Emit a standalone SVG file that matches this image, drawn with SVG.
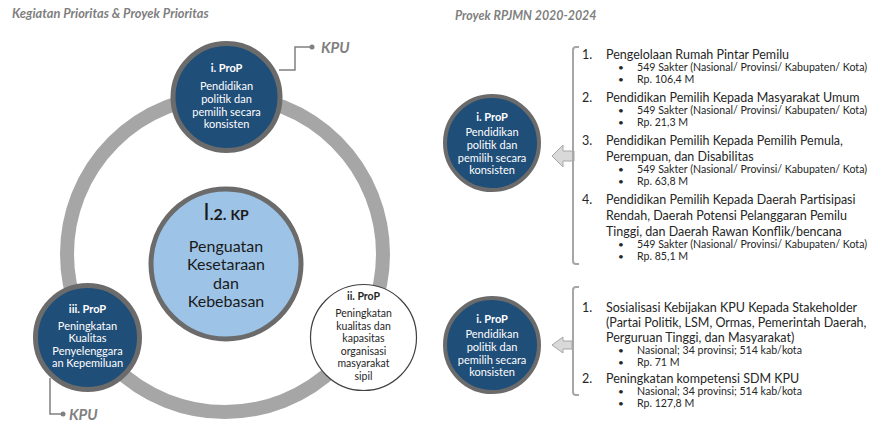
<svg xmlns="http://www.w3.org/2000/svg" width="871" height="421" viewBox="0 0 871 421">
<style>
.title{font-family:Lato,"Liberation Sans",sans-serif;font-weight:bold;font-style:italic;font-size:12.8px;fill:#7f7f7f}
.title2{font-family:Lato,"Liberation Sans",sans-serif;font-weight:bold;font-style:italic;font-size:12.4px;fill:#7f7f7f}
.kpu{font-family:Lato,"Liberation Sans",sans-serif;font-weight:bold;font-style:italic;font-size:15px;fill:#808080}
.dark{fill:#1f4e79;stroke:#6b6b6b;stroke-width:5}
.ct{font-family:Lato,"Liberation Sans",sans-serif;font-size:11px;fill:#ffffff;text-anchor:middle}
.ch{font-family:Lato,"Liberation Sans",sans-serif;font-size:11px;font-weight:bold;fill:#ffffff;text-anchor:middle}
.wt{font-family:Lato,"Liberation Sans",sans-serif;font-size:10.5px;fill:#262626;text-anchor:middle}
.wh{font-family:Lato,"Liberation Sans",sans-serif;font-size:10.5px;font-weight:bold;fill:#262626;text-anchor:middle}
.big{font-family:Lato,"Liberation Sans",sans-serif;font-size:16px;fill:#1a1a1a;text-anchor:middle}
.item{font-family:Lato,"Liberation Sans",sans-serif;font-size:12.5px;fill:#262626}
.sub{font-family:Lato,"Liberation Sans",sans-serif;font-size:10.6px;fill:#262626}
.bul{font-family:Lato,"Liberation Sans",sans-serif;font-size:10px;fill:#262626}
.conn{fill:none;stroke:#808080;stroke-width:1.5}
.brk{fill:none;stroke:#a6a6a6;stroke-width:2}
.arr{fill:#d9d9d9;stroke:#a6a6a6;stroke-width:1}
</style>
<rect width="871" height="421" fill="#ffffff"/>
<text class="title" x="12" y="17.5">Kegiatan Prioritas &amp; Proyek Prioritas</text>
<text class="title2" x="455" y="19.5">Proyek RPJMN 2020-2024</text>

<g id="ring">
<circle cx="225" cy="254" r="158" fill="none" stroke="#a6a6a6" stroke-width="14"/>
</g>

<g id="connectors">
<polyline class="conn" points="279,70 295,70 295,47 312,47"/>
<circle cx="312" cy="47" r="2.5" fill="#808080"/>
<polyline class="conn" points="50,378 50,414 63,414"/>
<circle cx="63" cy="414" r="2.5" fill="#808080"/>
<path class="arr" d="M552,156 L563,145 L563,151 L574,151 L574,161 L563,161 L563,167 Z"/>
<path class="arr" d="M552,345 L563,337 L563,341 L572,341 L572,349 L563,349 L563,353 Z"/>
<path class="brk" d="M579,47 L576,47 Q573,47 573,50 L573,261 Q573,264 576,264 L579,264"/>
<path class="brk" d="M579,287 L576,287 Q573,287 573,290 L573,392 Q573,395 576,395 L579,395"/>
</g>

<g id="kpu-top">
<text class="kpu" x="321" y="52.5">KPU</text>
</g>
<g id="kpu-bottom">
<text class="kpu" x="69" y="419.5">KPU</text>
</g>

<g id="prop-i-top">
<circle class="dark" cx="226.5" cy="97" r="53.5"/>
<text class="ch" x="226.5" y="72">i. ProP</text>
<text class="ct" x="226.5" y="90">Pendidikan</text>
<text class="ct" x="226.5" y="103">politik dan</text>
<text class="ct" x="226.5" y="115.5">pemilih secara</text>
<text class="ct" x="226.5" y="127.5">konsisten</text>
</g>

<g id="kp-center">
<circle cx="226" cy="264" r="75" fill="#9dc3e6" stroke="#6b6b6b" stroke-width="5"/>
<text x="226" y="220" text-anchor="middle" font-family="Lato,'Liberation Sans',sans-serif" font-weight="bold" fill="#1a1a1a"><tspan font-size="23" font-weight="normal">I</tspan><tspan font-size="16">.2. </tspan><tspan font-size="14">KP</tspan></text>
<text class="big" x="226" y="251.5">Penguatan</text>
<text class="big" x="226" y="270">Kesetaraan</text>
<text class="big" x="226" y="288.5">dan</text>
<text class="big" x="226" y="307">Kebebasan</text>
</g>

<g id="prop-iii">
<circle class="dark" cx="87.5" cy="337.5" r="52"/>
<text class="ch" x="87.5" y="313">iii. ProP</text>
<text class="ct" x="87.5" y="330">Peningkatan</text>
<text class="ct" x="87.5" y="342">Kualitas</text>
<text class="ct" x="87.5" y="355">Penyelenggara</text>
<text class="ct" x="87.5" y="367">an Kepemiluan</text>
</g>

<g id="prop-ii">
<circle cx="363.5" cy="337.5" r="53" fill="#ffffff" stroke="#404040" stroke-width="1.2"/>
<text class="wh" x="363.5" y="300">ii. ProP</text>
<text class="wt" x="363.5" y="317">Peningkatan</text>
<text class="wt" x="363.5" y="330">kualitas dan</text>
<text class="wt" x="363.5" y="342">kapasitas</text>
<text class="wt" x="363.5" y="355">organisasi</text>
<text class="wt" x="363.5" y="367">masyarakat</text>
<text class="wt" x="363.5" y="380">sipil</text>
</g>

<g id="prop-i-right-1">
<circle cx="492" cy="143" r="47" fill="#1f4e79" stroke="#6b6b6b" stroke-width="4"/>
<text class="ch" x="492" y="121">i. ProP</text>
<text class="ct" x="492" y="136">Pendidikan</text>
<text class="ct" x="492" y="149">politik dan</text>
<text class="ct" x="492" y="162">pemilih secara</text>
<text class="ct" x="492" y="174">konsisten</text>
</g>

<g id="prop-i-right-2">
<circle cx="492" cy="345" r="47" fill="#1f4e79" stroke="#6b6b6b" stroke-width="4"/>
<text class="ch" x="492" y="323">i. ProP</text>
<text class="ct" x="492" y="338">Pendidikan</text>
<text class="ct" x="492" y="351">politik dan</text>
<text class="ct" x="492" y="364">pemilih secara</text>
<text class="ct" x="492" y="376">konsisten</text>
</g>

<g id="list-1">
<text class="item" x="582" y="58.5">1.</text>
<text class="item" x="606" y="58.5">Pengelolaan Rumah Pintar Pemilu</text>
<text class="bul" x="618" y="70.5">•</text><text class="sub" x="637" y="70.8">549 Sakter (Nasional/ Provinsi/ Kabupaten/ Kota)</text>
<text class="bul" x="618" y="82.5">•</text><text class="sub" x="637" y="82.8">Rp. 106,4 M</text>
<text class="item" x="582" y="101.5">2.</text>
<text class="item" x="606" y="101.5">Pendidikan Pemilih Kepada Masyarakat Umum</text>
<text class="bul" x="618" y="113.5">•</text><text class="sub" x="637" y="113.8">549 Sakter (Nasional/ Provinsi/ Kabupaten/ Kota)</text>
<text class="bul" x="618" y="125.5">•</text><text class="sub" x="637" y="125.8">Rp. 21,3 M</text>
<text class="item" x="582" y="144.5">3.</text>
<text class="item" x="606" y="144.5">Pendidikan Pemilih Kepada Pemilih Pemula,</text>
<text class="item" x="606" y="160.5">Perempuan, dan Disabilitas</text>
<text class="bul" x="618" y="172.5">•</text><text class="sub" x="637" y="172.8">549 Sakter (Nasional/ Provinsi/ Kabupaten/ Kota)</text>
<text class="bul" x="618" y="184.5">•</text><text class="sub" x="637" y="184.8">Rp. 63,8 M</text>
<text class="item" x="582" y="203.5">4.</text>
<text class="item" x="606" y="203.5">Pendidikan Pemilih Kepada Daerah Partisipasi</text>
<text class="item" x="606" y="219.5">Rendah, Daerah Potensi Pelanggaran Pemilu</text>
<text class="item" x="606" y="235.5">Tinggi, dan Daerah Rawan Konflik/bencana</text>
<text class="bul" x="618" y="247.5">•</text><text class="sub" x="637" y="247.8">549 Sakter (Nasional/ Provinsi/ Kabupaten/ Kota)</text>
<text class="bul" x="618" y="259.5">•</text><text class="sub" x="637" y="259.8">Rp. 85,1 M</text>
</g>

<g id="list-2">
<text class="item" x="582" y="311.5">1.</text>
<text class="item" x="606" y="311.5">Sosialisasi Kebijakan KPU Kepada Stakeholder</text>
<text class="item" x="606" y="326.5">(Partai Politik, LSM, Ormas, Pemerintah Daerah,</text>
<text class="item" x="606" y="341.5">Perguruan Tinggi, dan Masyarakat)</text>
<text class="bul" x="618" y="353.5">•</text><text class="sub" x="637" y="353.8">Nasional; 34 provinsi; 514 kab/kota</text>
<text class="bul" x="618" y="365.5">•</text><text class="sub" x="637" y="365.8">Rp. 71 M</text>
<text class="item" x="582" y="382.5">2.</text>
<text class="item" x="606" y="382.5">Peningkatan kompetensi SDM KPU</text>
<text class="bul" x="618" y="394.5">•</text><text class="sub" x="637" y="394.8">Nasional; 34 provinsi; 514 kab/kota</text>
<text class="bul" x="618" y="406.5">•</text><text class="sub" x="637" y="406.8">Rp. 127,8 M</text>
</g>
</svg>
